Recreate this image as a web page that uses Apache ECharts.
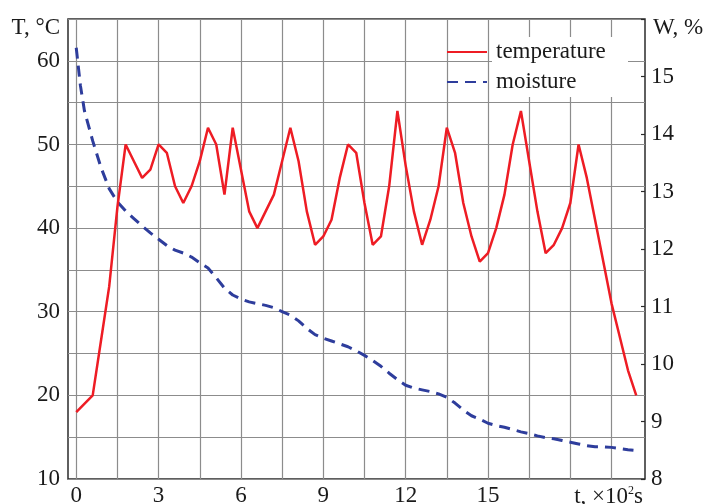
<!DOCTYPE html>
<html>
<head>
<meta charset="utf-8">
<script src="https://cdn.jsdelivr.net/npm/echarts@6/dist/echarts.min.js"></script>
<style>
  html, body { margin: 0; padding: 0; background: #fff; }
  #chart { width: 705px; height: 504px; }
</style>
</head>
<body>
<div id="chart"></div>
<script>
// time, x10^2 s
var tempTime = [0, 0.6, 0.9, 1.2, 1.5, 1.8, 2.1, 2.4, 2.7, 3.0, 3.3, 3.6, 3.9, 4.2, 4.5, 4.8, 5.1, 5.4, 5.7, 6.0,
  6.3, 6.6, 6.9, 7.2, 7.5, 7.8, 8.1, 8.4, 8.7, 9.0, 9.3, 9.6, 9.9, 10.2, 10.5, 10.8, 11.1, 11.4, 11.7, 12.0,
  12.3, 12.6, 12.9, 13.2, 13.5, 13.8, 14.1, 14.4, 14.7, 15.0, 15.3, 15.6, 15.9, 16.2, 16.5, 16.8, 17.1, 17.4,
  17.7, 18.0, 18.3, 18.6, 18.9, 19.2, 19.5, 19.8, 20.1, 20.4];
var temperature = [18, 20, 26.5, 33, 42.5, 50, 48, 46, 47, 50, 49, 45, 43, 45, 48, 52, 50, 44, 52, 47,
  42, 40, 42, 44, 48, 52, 48, 42, 38, 39, 41, 46, 50, 49, 43, 38, 39, 45, 54, 47.5,
  42, 38, 41, 45, 52, 49, 43, 39, 36, 37, 40, 44, 50, 54, 48, 42, 37, 38,
  40, 43, 50, 46, 41, 36, 31, 27, 23, 20];

var moistTime = [0, 0.15, 0.3, 0.6, 0.9, 1.2, 1.5, 1.8, 2.1, 2.4, 2.7, 3.0, 3.3, 3.6, 3.9, 4.2, 4.5, 4.8, 5.1, 5.4,
  5.7, 6.0, 6.3, 6.6, 6.9, 7.2, 7.5, 7.8, 8.1, 8.4, 8.7, 9.0, 9.3, 9.6, 9.9, 10.2, 10.5, 10.8, 11.1, 11.4,
  11.7, 12.0, 12.3, 12.6, 12.9, 13.2, 13.5, 13.8, 14.1, 14.4, 14.7, 15.0, 15.3, 15.6, 15.9, 16.2, 16.5, 16.8,
  17.1, 17.4, 17.7, 18.0, 18.3, 18.6, 18.9, 19.2, 19.5, 19.8, 20.1, 20.3];
var moisture = [15.5, 14.85, 14.4, 13.88, 13.42, 13.05, 12.82, 12.66, 12.53, 12.4, 12.28, 12.17, 12.06, 11.98, 11.93, 11.86, 11.76, 11.67, 11.5, 11.32,
  11.2, 11.13, 11.08, 11.05, 11.02, 10.98, 10.91, 10.85, 10.75, 10.62, 10.51, 10.45, 10.4, 10.35, 10.3, 10.23, 10.15, 10.06, 9.96, 9.84,
  9.73, 9.63, 9.58, 9.55, 9.52, 9.48, 9.42, 9.32, 9.2, 9.1, 9.04, 8.97, 8.93, 8.9, 8.86, 8.82, 8.79, 8.75,
  8.72, 8.7, 8.67, 8.64, 8.61, 8.58, 8.56, 8.56, 8.55, 8.53, 8.51, 8.5];

var xGridTicks = [0, 1.5, 3, 4.5, 6, 7.5, 9, 10.5, 12, 13.5, 15, 16.5, 18, 19.5];
var xLabelTicks = [0, 3, 6, 9, 12, 15];

var font = 'Liberation Serif, Times New Roman, serif';
var txt = { fontFamily: font, fontSize: 23, color: '#1a1a1a' };

function pairs(xs, ys) {
  return xs.map(function (x, i) { return [x, ys[i]]; });
}

var chart = echarts.init(document.getElementById('chart'));
chart.setOption({
  animation: false,
  backgroundColor: '#fff',
  grid: {
    left: 68, right: 60, top: 19, bottom: 25,
    containLabel: false, outerBoundsMode: 'none',
    show: true, borderColor: '#2b2b2b', borderWidth: 1.5, backgroundColor: 'transparent'
  },
  legend: {
    left: 441, top: 32, orient: 'vertical',
    itemWidth: 40, itemHeight: 14, itemGap: 0,
    itemStyle: { opacity: 0 },
    textStyle: {
      fontFamily: font, fontSize: 23, color: '#1a1a1a',
      backgroundColor: '#fff', padding: [3, 6, 3, 4], lineHeight: 24, width: 126
    },
    data: ['temperature', 'moisture']
  },
  xAxis: {
    type: 'value', min: -0.3, max: 20.72,
    axisLine: { show: false, onZero: false },
    axisTick: { show: false, customValues: xGridTicks },
    axisLabel: Object.assign({ customValues: xLabelTicks, margin: 5 }, txt),
    splitLine: { show: true, lineStyle: { color: '#8c8c8c', width: 1.2 } },
    name: 't, ×10{sup|2}s',
    nameLocation: 'end', nameGap: -2, nameMoveOverlap: false,
    nameTextStyle: {
      fontFamily: font, fontSize: 23, color: '#1a1a1a',
      align: 'right', verticalAlign: 'top', padding: [6, 0, 0, 0],
      rich: { sup: { fontFamily: font, fontSize: 12, color: '#1a1a1a', verticalAlign: 'top', padding: [0, 0, 10, 0] } }
    }
  },
  yAxis: [{
    type: 'value', min: 10, max: 65, interval: 5,
    axisLine: { show: false, onZero: false },
    axisTick: { show: false },
    axisLabel: Object.assign({
      margin: 8,
      formatter: function (v) { return (v % 10 === 0) ? String(v) : ''; }
    }, txt),
    splitLine: { show: true, lineStyle: { color: '#8c8c8c', width: 1.2 } },
    name: 'T, °C{gap|\u00a0}', nameLocation: 'end', nameGap: -9, nameMoveOverlap: false,
    nameTextStyle: Object.assign({
      align: 'right', verticalAlign: 'middle',
      rich: { gap: { width: 8, fontSize: 23 } }
    }, txt)
  }, {
    type: 'value', min: 8, max: 16, interval: 1, position: 'right',
    axisLine: { show: false, onZero: false },
    axisTick: { show: true, inside: true, length: 4, lineStyle: { color: '#2b2b2b', width: 1.2 } },
    axisLabel: Object.assign({
      margin: 6,
      formatter: function (v) { return v === 16 ? '' : String(v); }
    }, txt),
    splitLine: { show: false },
    name: 'W, %', nameLocation: 'end', nameGap: -9, nameMoveOverlap: false,
    nameTextStyle: Object.assign({ align: 'left', verticalAlign: 'middle', padding: [0, 0, 0, 8] }, txt)
  }],
  series: [{
    name: 'temperature', type: 'line', yAxisIndex: 0,
    symbol: 'none', smooth: false,
    color: '#ee1c24',
    lineStyle: { color: '#ee1c24', width: 2.5 },
    data: pairs(tempTime, temperature),
    z: 3
  }, {
    name: 'moisture', type: 'line', yAxisIndex: 1,
    symbol: 'none', smooth: false,
    color: '#2e3d9c',
    lineStyle: { color: '#2e3d9c', width: 3, type: [11, 7] },
    data: pairs(moistTime, moisture),
    z: 2
  }]
});
</script>
</body>
</html>
